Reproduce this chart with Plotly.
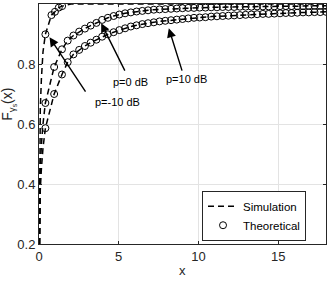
import plotly.graph_objects as go

# ---------------- data ----------------
x_theory = [0.4, 0.95] + [round(1.44 + 0.36 * k, 2) for k in range(47)]

F_p0 = [0.670, 0.790, 0.849, 0.878, 0.895, 0.908, 0.918, 0.928, 0.937, 0.947,
        0.954, 0.960, 0.965, 0.969, 0.972, 0.975, 0.977, 0.979, 0.981, 0.982,
        0.983, 0.984, 0.985, 0.986, 0.987, 0.987, 0.988, 0.988, 0.989, 0.989,
        0.990, 0.990, 0.990, 0.991, 0.991, 0.991, 0.992, 0.992, 0.992, 0.992,
        0.993, 0.993, 0.993, 0.993, 0.993, 0.994, 0.994, 0.994, 0.994]

F_p10 = [0.586, 0.700, 0.765, 0.806, 0.832, 0.847, 0.860, 0.871, 0.881, 0.891,
         0.899, 0.906, 0.913, 0.919, 0.925, 0.929, 0.933, 0.936, 0.939, 0.942,
         0.944, 0.946, 0.948, 0.950, 0.952, 0.954, 0.955, 0.956, 0.958, 0.959,
         0.960, 0.961, 0.962, 0.963, 0.964, 0.965, 0.966, 0.967, 0.967, 0.968,
         0.969, 0.970, 0.970, 0.971, 0.972, 0.972, 0.973, 0.973, 0.974]

x_theory_m10 = [0.4, 0.78, 1.0, 1.24, 1.45]
F_m10 = [0.899, 0.963, 0.974, 0.988, 0.993]

# simulation: extra samples near x = 0
x_sim_start = [0.0, 0.03, 0.08, 0.15, 0.25]
sim_p0_start = [0.0, 0.35, 0.45, 0.53, 0.60]
sim_p10_start = [0.0, 0.30, 0.38, 0.45, 0.52]

x_sim_m10 = [0.0, 0.03, 0.08, 0.15, 0.25, 0.4, 0.78, 1.0, 1.24, 1.45, 1.7, 2.0, 18.0]
sim_m10 = [0.0, 0.50, 0.65, 0.75, 0.84, 0.899, 0.963, 0.974, 0.988, 0.993, 0.997, 1.0, 1.0]

x_sim = x_sim_start + x_theory
sim_p0 = sim_p0_start + F_p0
sim_p10 = sim_p10_start + F_p10

x_ticks = [0, 5, 10, 15]
y_ticks = [0.2, 0.4, 0.6, 0.8, 1.0]
y_tick_text = ["0.2", "0.4", "0.6", "0.8", "1"]

# ---------------- figure ----------------
FONT = "Liberation Sans, Arial, Helvetica, sans-serif"
AX = "#262626"
dash = "6px,4px"

fig = go.Figure()

for xs, ys, show in [(x_sim_m10, sim_m10, True), (x_sim, sim_p0, False), (x_sim, sim_p10, False)]:
    fig.add_trace(go.Scatter(x=xs, y=ys, mode="lines", name="Simulation",
                             line=dict(color="black", width=1.5, dash=dash),
                             showlegend=show))

for xs, ys, show in [(x_theory_m10, F_m10, True), (x_theory, F_p0, False), (x_theory, F_p10, False)]:
    fig.add_trace(go.Scatter(x=xs, y=ys, mode="markers", name="Theoretical",
                             marker=dict(symbol="circle-open", size=7,
                                         color="black", line=dict(width=1)),
                             showlegend=show))

axis_common = dict(showline=True, linecolor=AX, linewidth=1, mirror="ticks",
                   ticks="inside", ticklen=3, tickcolor=AX, automargin=False,
                   showgrid=True, gridcolor="#e3e3e3", gridwidth=1,
                   zeroline=False, tickfont=dict(family=FONT, size=13, color=AX))

fig.update_xaxes(range=[0, 18], tickvals=x_ticks, **axis_common)
fig.update_yaxes(range=[0.2, 1.0], tickvals=y_ticks, ticktext=y_tick_text, **axis_common)

ann = []
# arrows (tip, tail in data coords)
arrows = [((0.66, 0.889), (2.98, 0.703)),
          ((3.90, 0.936), (5.43, 0.773)),
          ((8.14, 0.919), (9.00, 0.773))]
for (hx, hy), (tx, ty) in arrows:
    ann.append(dict(x=hx, y=hy, ax=tx, ay=ty, xref="x", yref="y", axref="x", ayref="y",
                    text="", showarrow=True, arrowhead=2, arrowsize=1.3,
                    arrowwidth=1.4, arrowcolor="black"))

labels = [("p=-10 dB", 4.9, 0.674), ("p=0 dB", 5.74, 0.74), ("p=10 dB", 9.22, 0.75)]
for t, x, y in labels:
    ann.append(dict(x=x, y=y, xref="x", yref="y", text=t, showarrow=False,
                    font=dict(family=FONT, size=11, color="black")))

ann.append(dict(x=-0.1045, y=0.58, xref="paper", yref="paper", xanchor="center",
                yanchor="middle",
                text="F<sub>γ<sub>s</sub></sub>(x)", textangle=-90, showarrow=False,
                font=dict(family=FONT, size=14, color=AX)))
ann.append(dict(x=0.5, y=-0.152, xref="paper", yref="paper", text="x",
                showarrow=False, yanchor="bottom",
                font=dict(family=FONT, size=13, color=AX)))

fig.update_layout(
    width=329, height=281,
    margin=dict(l=39, r=3, t=4, b=37, autoexpand=False),
    paper_bgcolor="white", plot_bgcolor="white",
    annotations=ann,
    legend=dict(x=0.568, y=0.222, xanchor="left", yanchor="top",
                bordercolor=AX, borderwidth=1, bgcolor="white",
                font=dict(family=FONT, size=11.5, color="black"),
                tracegroupgap=0, itemwidth=30),
)

fig.write_html("out.html", config={"displayModeBar": False},
               post_script="document.body.style.margin='0';document.body.style.overflow='hidden';")
